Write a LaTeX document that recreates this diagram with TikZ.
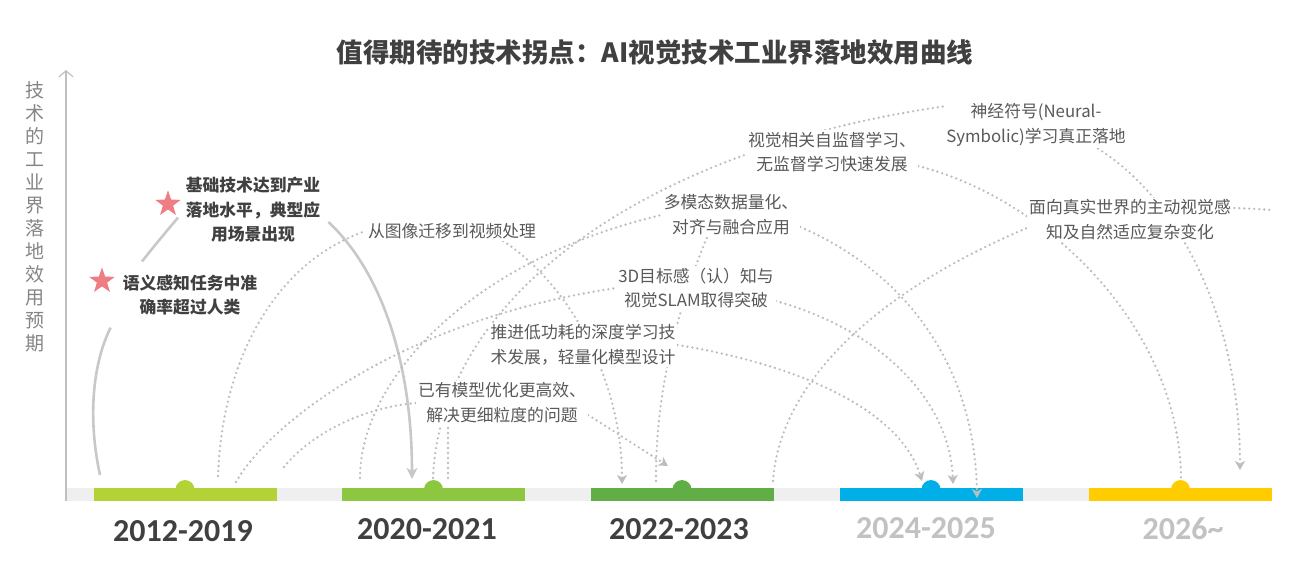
\documentclass[tikz,border=0pt]{standalone}
\usepackage{fontspec}
\setmainfont{Noto Sans CJK SC}
\newfontfamily\yearfont{Carlito}
\usepackage{tikz}
\usetikzlibrary{positioning, arrows.meta, shapes.geometric}
\definecolor{ink}{HTML}{404040}
\definecolor{softink}{HTML}{595959}
\definecolor{axisgray}{HTML}{BFBFBF}
\definecolor{axistext}{HTML}{858585}
\definecolor{arcgray}{HTML}{BDBDBD}
\definecolor{solidgray}{HTML}{C8C8C8}
\definecolor{stripgray}{HTML}{EFEFEF}
\definecolor{paleyear}{HTML}{C2C2C2}
\definecolor{starred}{HTML}{EE7E84}
\definecolor{pA}{HTML}{B3D235}
\definecolor{pB}{HTML}{8DC63F}
\definecolor{pC}{HTML}{62AE46}
\definecolor{pD}{HTML}{00AEE8}
\definecolor{pE}{HTML}{FFCC00}
\pgfdeclarelayer{bars}
\pgfdeclarelayer{arcs}
\pgfsetlayers{bars,arcs,main}

\begin{document}
\begin{tikzpicture}[
        x=1pt, y=-1pt,
        % text boxes
        topicbox/.style={
            fill=white, inner sep=2pt, align=center, text=softink,
            font=\fontsize{16.8}{24.8}\selectfont
        },
        keybox/.style={
            topicbox, text=ink, font=\bfseries\fontsize{16.8}{24.6}\selectfont
        },
        yearlabel/.style={font=\yearfont\bfseries\fontsize{32}{32}\selectfont, text=ink},
        % timeline
        barseg/.style={rectangle, inner sep=0pt, minimum width=183pt, minimum height=12.5pt},
        milestone/.style={star, star points=5, star point ratio=2.5, fill=starred, inner sep=0pt, minimum size=27pt},
        % connectors
        dotarc/.style={draw=arcgray, line width=2.6pt, line cap=round, dash pattern=on 0pt off 5pt},
        dotarrow/.style={dotarc, -{Stealth[length=9pt, width=10pt, inset=2.5pt]}},
        solidarc/.style={draw=solidgray, line width=2.6pt}
    ]
    \useasboundingbox (0,0) rectangle (1294,582);

    % 1. Title and axis
    \node[font=\bfseries\fontsize{26.5}{30}\selectfont, text=ink] (title) at (655,52)
        {值得期待的技术拐点：AI视觉技术工业界落地效用曲线};
    \draw[axisgray, line width=1.2pt, -{Straight Barb[length=6pt, width=14pt]}] (66,501) -- (66,70);
    \node[align=center, text=axistext, font=\fontsize{19}{23}\selectfont] (ylab) at (35,216.5)
        {技\\术\\的\\工\\业\\界\\落\\地\\效\\用\\预\\期};

    % 2. Timeline bars
    \begin{pgfonlayer}{bars}
        \fill[stripgray] (66,488) rectangle (1272,501);
        \node[barseg, fill=pA] (bar1) at (185,494.5) {};
        \node[barseg, fill=pB] (bar2) at (433.5,494.5) {};
        \node[barseg, fill=pC] (bar3) at (682,494.5) {};
        \node[barseg, fill=pD] (bar4) at (931,494.5) {};
        \node[barseg, fill=pE] (bar5) at (1180.5,494.5) {};
        \foreach \b/\c in {bar1/pA, bar2/pB, bar3/pC, bar4/pD, bar5/pE}
            \fill[\c] ([yshift=-1.5pt]\b.north) circle[radius=9.5pt];
    \end{pgfonlayer}

    \node[yearlabel] (y1) at (183,531) {2012-2019};
    \node[yearlabel] (y2) at (427,529) {2020-2021};
    \node[yearlabel] (y3) at (679,529) {2022-2023};
    \node[yearlabel, text=paleyear] (y4) at (926,528) {2024-2025};
    \node[yearlabel, text=paleyear] (y5) at (1183,529) {2026\textasciitilde};

    % 3. Milestones reached
    \node[milestone] (star1) at (168,204) {};
    \node[milestone] (star2) at (102,281) {};
    \node[keybox] (b1) at (253,210) {基础技术达到产业\\落地水平，典型应\\用场景出现};
    \node[keybox] (b2) at (190,295) {语义感知任务中准\\确率超过人类};

    % 4. Expected turning points
    \node[topicbox] (t1) at (452,231) {从图像迁移到视频处理};
    \node[topicbox] (t2) at (832,152) {视觉相关自监督学习、\\无监督学习快速发展};
    \node[topicbox] (t3) at (1036,125) {神经符号(Neural-\\Symbolic)学习真正落地};
    \node[topicbox] (t4) at (731,215) {多模态数据量化、\\对齐与融合应用};
    \node[topicbox] (t5) at (1130,220) {面向真实世界的主动视觉感\\知及自然适应复杂变化};
    \node[topicbox] (t6) at (696,288) {3D目标感（认）知与\\视觉SLAM取得突破};
    \node[topicbox] (t7) at (583,345) {推进低功耗的深度学习技\\术发展，轻量化模型设计};
    \node[topicbox] (t8) at (502,403) {已有模型优化更高效、\\解决更细粒度的问题};

    % --- CONNECTORS ---
    \begin{pgfonlayer}{arcs}
        % start points on the bars
        \coordinate (s12) at (100,475);
        \coordinate (o12a) at (218,476);
        \coordinate (o12b) at (236,482);
        \coordinate (o12c) at (284,467);
        \coordinate (o20a) at (360,478);
        \coordinate (o20b) at (433,478);
        \coordinate (o20c) at (448,478);
        \coordinate (o22a) at (656,481);
        \coordinate (o22b) at (773,481);
        \coordinate (far) at (1272,210);
        % arrow ends
        \coordinate (e20) at (412,479);
        \coordinate (e22a) at (622,484);
        \coordinate (e22b) at (668,466);
        \coordinate (e24a) at (922,481);
        \coordinate (e24b) at (953,484);
        \coordinate (e24c) at (977,498);
        \coordinate (e26a) at (1181,479);
        \coordinate (e26b) at (1240,470);

        % solid path of what has been reached
        \draw[solidarc] (s12) .. controls (88,420) and (92,365) .. ([xshift=-10pt,yshift=-10pt]b2.south west);
        \draw[solidarc] ([xshift=-48pt,yshift=11pt]b2.north) .. controls (155,245) and (165,233) .. ([xshift=10pt,yshift=-8pt]star1.south);
        \draw[solidarc, -{Stealth[length=11pt, width=11pt, inset=3pt]}]
            ([xshift=6pt,yshift=-12pt]b1.east) .. controls (380,270) and (412,360) .. (e20);

        % from the bars up to the topics
        \draw[dotarc] (o12a) .. controls (222,360) and (275,262) .. (t1.west);
        \draw[dotarc] (o12b) .. controls (268,425) and (400,320) .. (t6.west);
        \draw[dotarc] (o12c) .. controls (310,435) and (360,408) .. (t8.west);
        \draw[dotarc] (o20a) .. controls (360,380) and (470,260) .. (t4.west);
        \draw[dotarc] (o20b) .. controls (440,300) and (640,150) .. ([yshift=-5pt]t3.north west);
        \draw[dotarc] (o20c) -- ([xshift=-54pt]t8.south);
        \draw[dotarc] (o22a) .. controls (655,380) and (685,290) .. ([xshift=-24pt]t4.south);
        \draw[dotarc] (o22b) .. controls (780,380) and (880,290) .. ([yshift=-8pt]t5.west)
            .. controls (1110,205) and (1200,205) .. (far);

        % from the topics down to the expected period
        \draw[dotarrow] ([xshift=-35pt]t1.south east) .. controls (570,285) and (622,380) .. (e22a);
        \draw[dotarrow] ([yshift=-12pt]t8.east) -- (e22b);
        \draw[dotarrow] (t7.east) .. controls (800,365) and (900,410) .. (e24a);
        \draw[dotarrow] ([yshift=-13pt]t6.east) .. controls (880,330) and (950,400) .. (e24b);
        \draw[dotarrow] ([yshift=-12pt]t4.east) .. controls (900,270) and (975,360) .. (e24c);
        \draw[dotarc] ([yshift=-14pt]t2.east) .. controls (1050,200) and (1180,330) .. (e26a);
        \draw[dotarrow] ([xshift=62pt]t3.south) .. controls (1180,200) and (1240,320) .. (e26b);
    \end{pgfonlayer}

\end{tikzpicture}
\end{document}
